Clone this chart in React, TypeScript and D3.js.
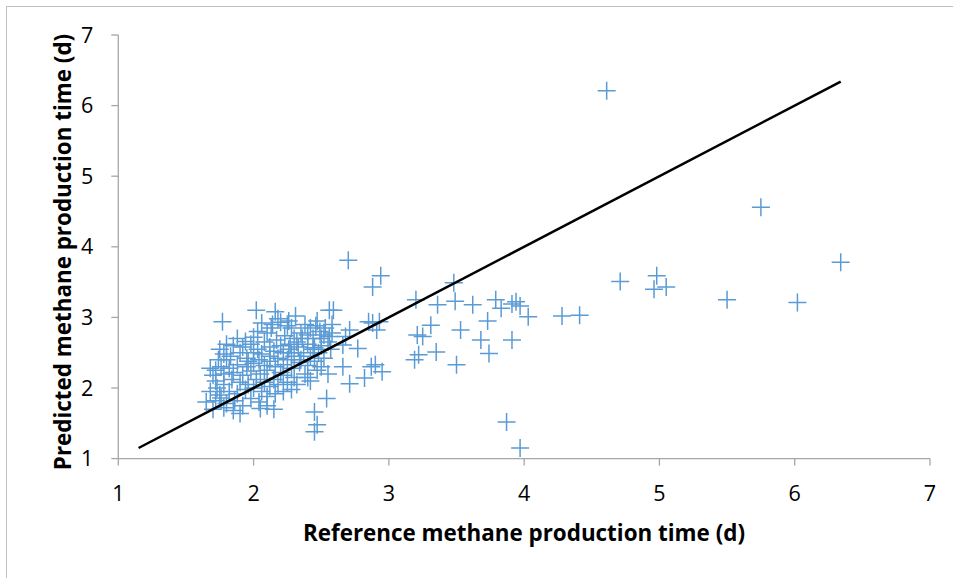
import React from "react";
import * as d3 from "d3";

const xTicks = [1, 2, 3, 4, 5, 6, 7];
const yTicks = [1, 2, 3, 4, 5, 6, 7];
const xTitle = "Reference methane production time (d)";
const yTitle = "Predicted methane production time (d)";

// Reference (x) values
const refValues: number[] = [
  // outliers & sparse region
  4.61, 5.75, 6.34, 4.71, 4.98, 4.96, 5.05, 5.50, 6.02, 4.28, 4.41, 4.03,
  2.70, 2.94, 2.88, 3.48, 3.20, 3.36, 3.49, 3.62, 3.79, 3.83, 3.91, 3.94, 3.97,
  3.73, 3.53, 3.31, 3.21, 3.25, 3.68, 3.74, 3.91, 3.35, 3.22, 3.19, 3.50, 3.87, 3.97,
  2.88, 2.93, 2.85, 2.91, 2.68, 2.71, 2.66, 2.90, 2.95, 2.71, 2.82, 2.77, 2.66, 2.59, 2.56, 2.87,
  // dense cluster
  2.02, 2.16, 2.31, 2.56, 1.77, 2.18, 2.20, 2.25, 2.28, 2.13, 2.10, 2.03, 2.00, 2.38, 2.42, 2.46,
  2.49, 2.52, 2.44, 2.35, 2.30, 2.23, 2.17, 2.08, 1.98, 1.92, 1.85, 1.80, 1.75, 1.78, 1.83, 1.90,
  1.95, 2.03, 2.06, 2.12, 2.15, 2.20, 2.27, 2.33, 2.40, 2.45, 2.50, 2.55, 2.48, 2.42, 2.37, 2.30,
  2.25, 2.18, 2.12, 2.08, 2.00, 1.95, 1.88, 1.82, 1.76, 1.72, 1.70, 1.78, 1.85, 1.92, 1.98, 2.05,
  2.10, 2.16, 2.22, 2.28, 2.34, 2.40, 2.45, 2.52, 2.57, 2.47, 2.38, 2.30, 2.22, 2.15, 2.08, 2.02,
  1.96, 1.90, 1.84, 1.78, 1.73, 1.68, 1.75, 1.82, 1.88, 1.94, 2.00, 2.06, 2.12, 2.18, 2.25, 2.32,
  2.42, 1.65, 1.72, 1.80, 1.86, 1.92, 1.98, 2.04, 2.10, 2.16, 2.22, 2.28, 1.70, 1.78, 1.85, 1.90,
  2.05, 2.10, 2.15, 2.45, 2.54, 2.47, 2.45, 1.76, 1.72, 1.68, 1.80, 1.88, 1.94, 2.00, 2.22, 2.26,
  2.32, 2.36, 2.26, 2.14, 2.06, 2.40, 2.50, 2.53, 2.58, 2.58, 2.47, 2.35, 2.44, 2.12, 2.04, 1.96,
  2.28, 2.20, 2.50, 2.55, 2.40, 1.74,
];

// Predicted (y) values
const predValues: number[] = [
  6.21, 4.56, 3.78, 3.51, 3.59, 3.40, 3.43, 3.25, 3.21, 3.02, 3.03, 3.01,
  3.81, 3.59, 3.43, 3.49, 3.25, 3.18, 3.23, 3.18, 3.25, 3.13, 3.19, 3.22, 3.16,
  2.95, 2.82, 2.89, 2.75, 2.73, 2.68, 2.49, 2.68, 2.51, 2.47, 2.40, 2.33, 1.52, 1.15,
  2.92, 2.94, 2.94, 2.82, 2.73, 2.82, 2.30, 2.33, 2.23, 2.06, 2.14, 2.56, 2.61, 3.10, 2.73, 2.30,
  3.10, 3.08, 3.02, 3.10, 2.94, 2.98, 2.93, 2.88, 2.85, 2.85, 2.78, 2.80, 2.72, 2.90, 2.85, 2.88,
  2.80, 2.75, 2.70, 2.78, 2.70, 2.74, 2.68, 2.65, 2.62, 2.58, 2.60, 2.62, 2.55, 2.48, 2.45, 2.50,
  2.42, 2.55, 2.48, 2.58, 2.52, 2.60, 2.62, 2.58, 2.62, 2.57, 2.60, 2.65, 2.50, 2.45, 2.50, 2.45,
  2.40, 2.42, 2.38, 2.32, 2.35, 2.30, 2.33, 2.28, 2.30, 2.25, 2.18, 2.20, 2.22, 2.18, 2.24, 2.20,
  2.25, 2.30, 2.33, 2.28, 2.36, 2.32, 2.38, 2.42, 2.55, 2.25, 2.20, 2.15, 2.18, 2.12, 2.08, 2.12,
  2.05, 2.08, 2.12, 2.05, 2.00, 1.95, 1.90, 1.95, 1.92, 1.98, 2.00, 1.95, 2.02, 2.05, 2.08, 2.05,
  2.10, 1.80, 1.82, 1.78, 1.82, 1.75, 1.85, 1.80, 1.88, 1.92, 1.95, 1.98, 1.70, 1.72, 1.68, 1.64,
  1.71, 1.75, 1.70, 1.66, 1.85, 1.48, 1.38, 1.86, 2.10, 2.28, 2.40, 2.70, 2.66, 2.50, 2.50, 2.55,
  2.65, 2.70, 2.95, 2.90, 2.92, 2.75, 2.70, 2.85, 2.78, 2.90, 2.95, 2.40, 2.55, 2.45, 2.40, 2.38,
  2.50, 2.22, 2.30, 2.20, 2.15, 2.40,
];

const W = 953;
const H = 578;
const margin = { left: 118.3, right: 930, top: 35, bottom: 458.6 };
const FONT = "'Open Sans', Lato, sans-serif";
const BLUE = "#5B9BD5";
const AXIS = "#A6A6A6";

export default function App() {
  const x = d3.scaleLinear().domain([1, 7]).range([margin.left, margin.right]);
  const y = d3.scaleLinear().domain([1, 7]).range([margin.bottom, margin.top]);
  const pts = refValues.map((v, i) => [v, predValues[i]] as [number, number]);
  const all = refValues.concat(predValues);
  const lo = d3.min(all) as number;
  const hi = d3.max(all) as number;
  const line = d3.line<number>().x((d) => x(d)).y((d) => y(d));
  const s = 9;

  return (
    <svg
      width={W}
      height={H}
      style={{ position: "fixed", left: 0, top: 0, background: "#fff" }}
    >
      <rect x={0} y={0} width={W} height={H} fill="#fff" />
      <path d={`M6.5,${H + 5}V6.5H${W + 5}`} fill="none" stroke="#BFBFBF" strokeWidth={1} />
      {/* axes */}
      <line x1={x(1)} x2={x(7)} y1={y(1)} y2={y(1)} stroke={AXIS} strokeWidth={1.3} />
      <line x1={x(1)} x2={x(1)} y1={y(1)} y2={y(7)} stroke={AXIS} strokeWidth={1.3} />
      {xTicks.map((t) => (
        <g key={"xt" + t}>
          <line x1={x(t)} x2={x(t)} y1={y(1)} y2={y(1) + 7} stroke={AXIS} strokeWidth={1.3} />
          <text x={x(t)} y={y(1) + 42} textAnchor="middle" fontFamily={FONT} fontSize={21.5} fill="#000">
            {t}
          </text>
        </g>
      ))}
      {yTicks.map((t) => (
        <g key={"yt" + t}>
          <line x1={x(1) - 7} x2={x(1)} y1={y(t)} y2={y(t)} stroke={AXIS} strokeWidth={1.3} />
          <text x={x(1) - 25} y={y(t) + 7.5} textAnchor="end" fontFamily={FONT} fontSize={21.5} fill="#000">
            {t}
          </text>
        </g>
      ))}
      {/* points */}
      {pts.map(([a, b], i) => (
        <path
          key={i}
          d={`M${x(a) - s},${y(b)}H${x(a) + s}M${x(a)},${y(b) - s}V${y(b) + s}`}
          stroke={BLUE}
          strokeWidth={1.5}
          fill="none"
        />
      ))}
      {/* 1:1 line */}
      <path d={line([lo, hi]) as string} stroke="#000" strokeWidth={2.5} fill="none" />
      {/* titles */}
      <text x={524} y={541} textAnchor="middle" fontFamily={FONT} fontWeight="bold" fontSize={22.4} fill="#000">
        {xTitle}
      </text>
      <text
        transform={`translate(71,252) rotate(-90)`}
        textAnchor="middle"
        fontFamily={FONT}
        fontWeight="bold"
        fontSize={22.4}
        fill="#000"
      >
        {yTitle}
      </text>
    </svg>
  );
}
